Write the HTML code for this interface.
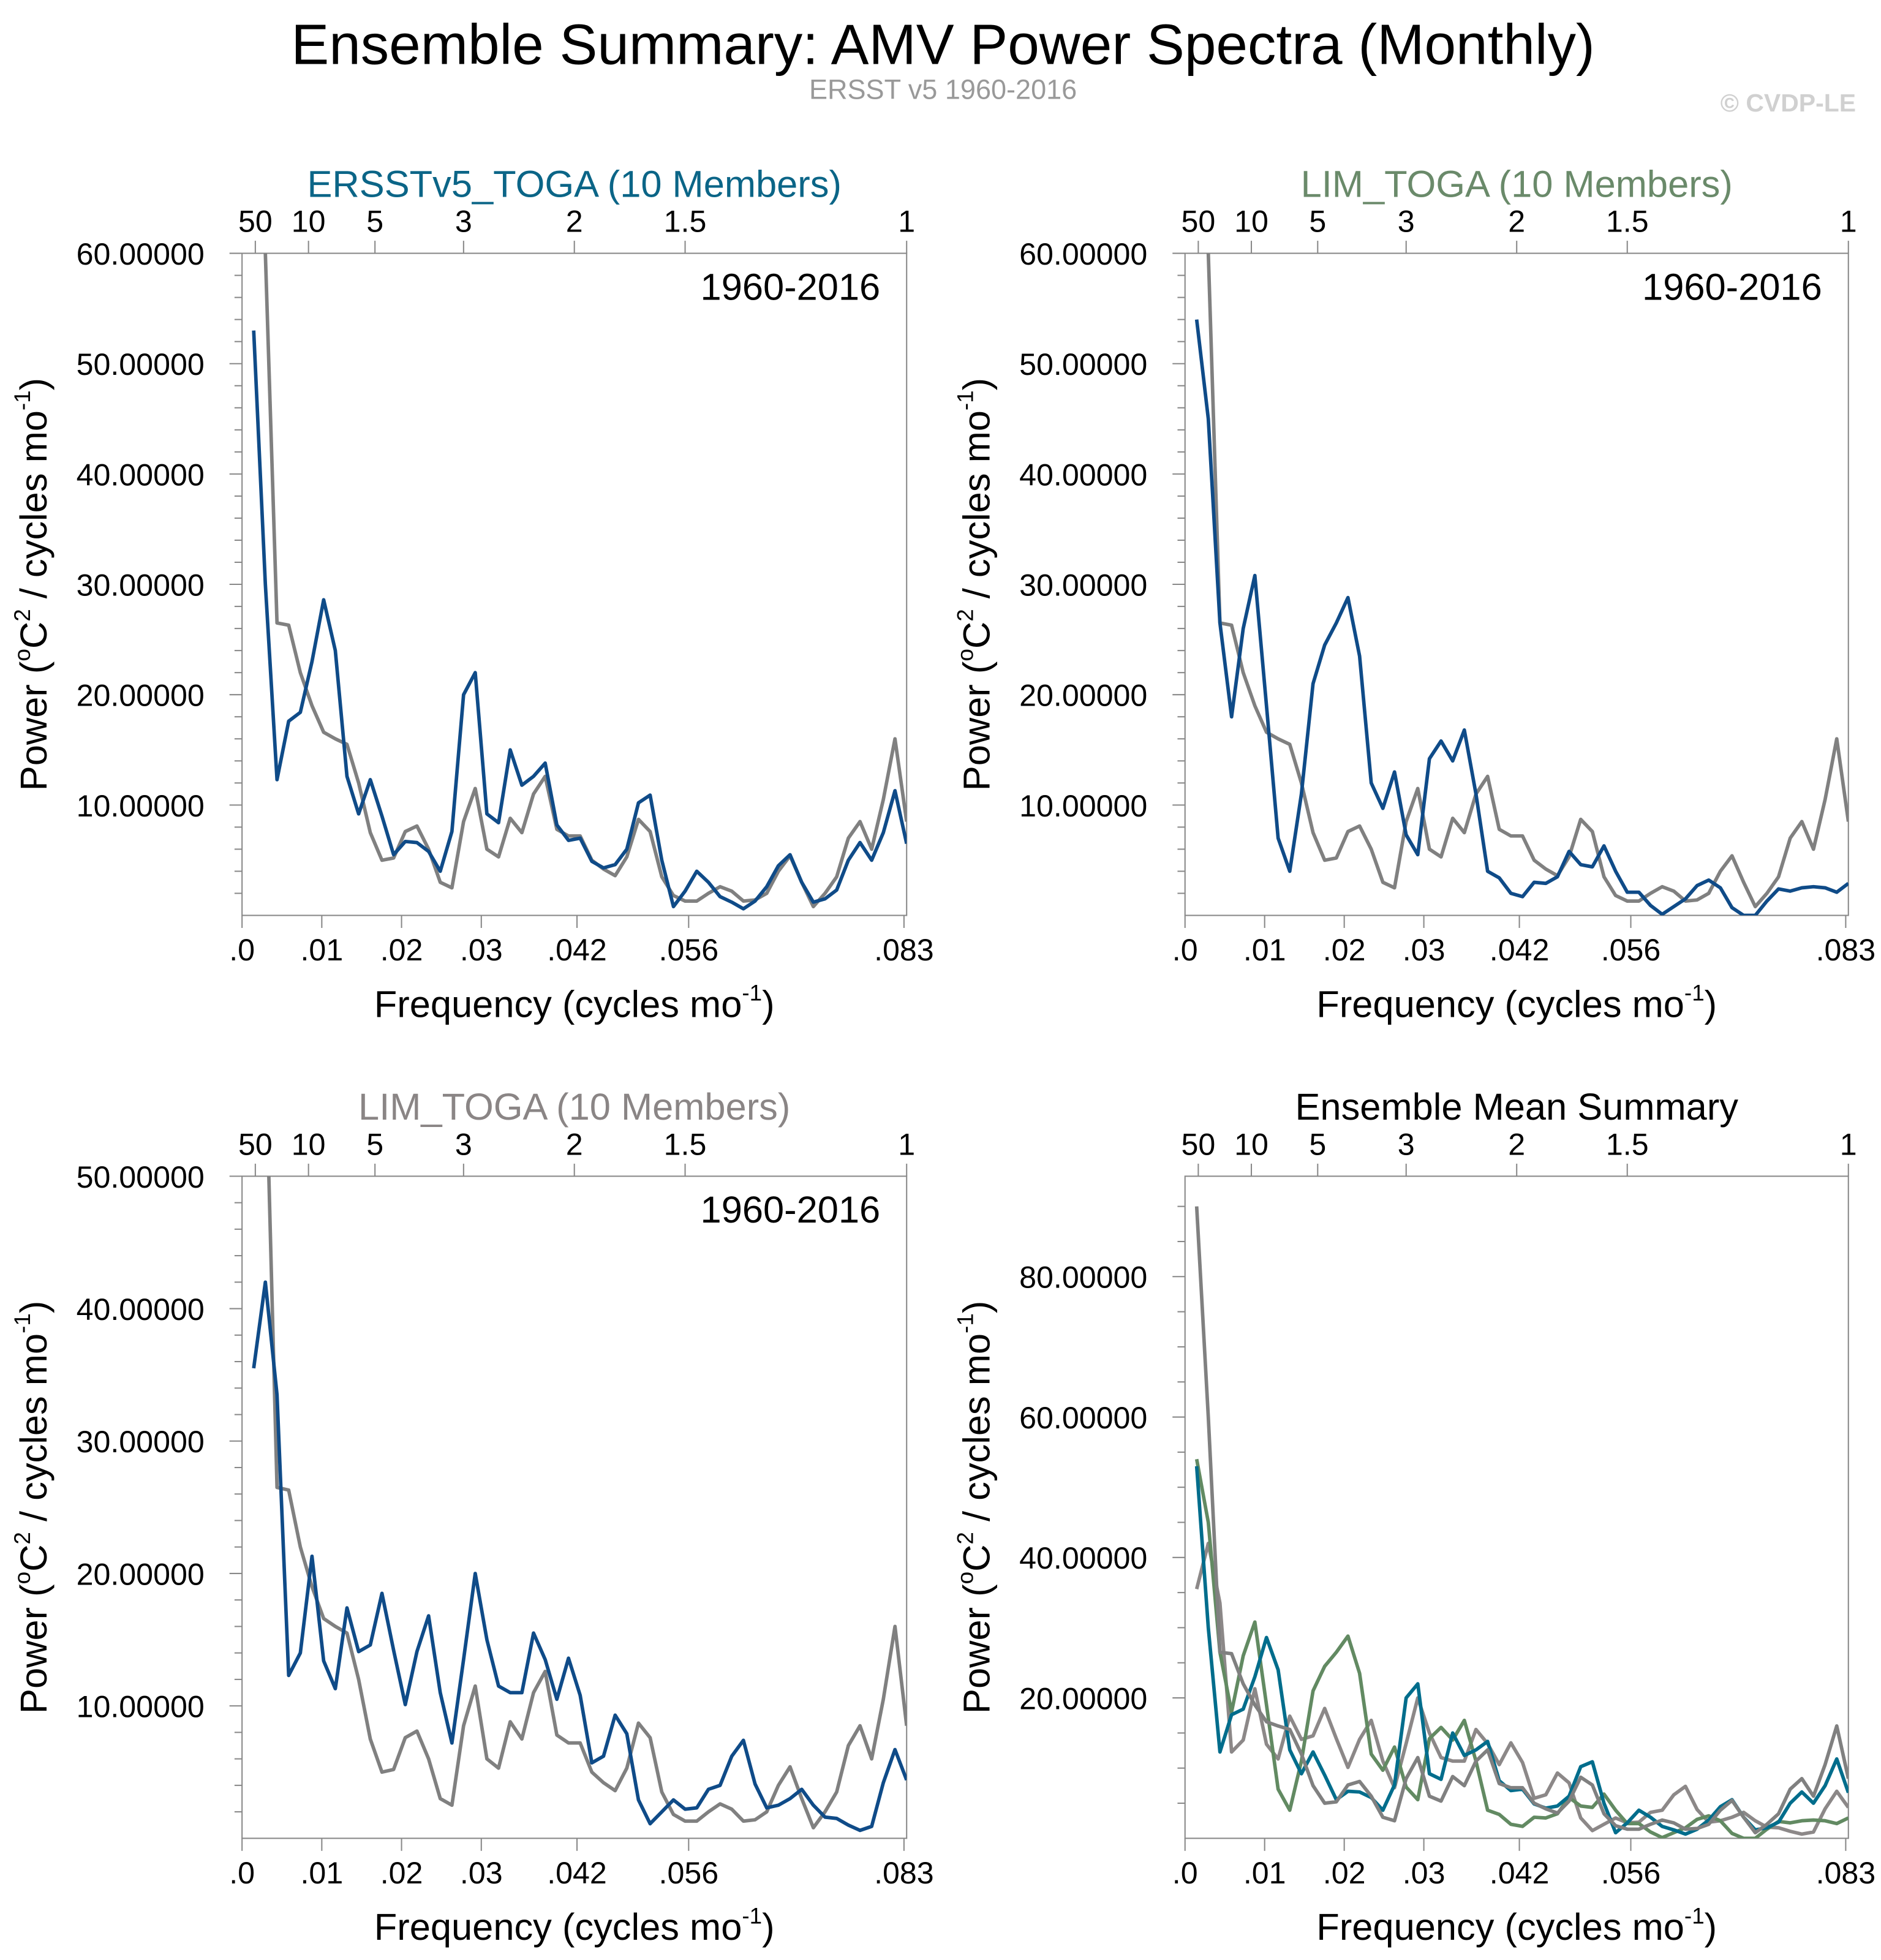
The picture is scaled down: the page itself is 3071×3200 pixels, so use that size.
<!DOCTYPE html>
<html><head><meta charset="utf-8"><style>
html,body{margin:0;padding:0;background:#fff;}
svg{display:block;font-family:"Liberation Sans",Arial,sans-serif;}
</style></head><body>
<svg id="chart" width="3071" height="3200" viewBox="0 0 1500 1563.04" xmlns="http://www.w3.org/2000/svg">
<text x="752" y="51" font-size="45.3" text-anchor="middle" fill="#000">Ensemble Summary: AMV Power Spectra (Monthly)</text>
<text x="752" y="79" font-size="22" text-anchor="middle" fill="#999">ERSST v5 1960-2016</text>
<text x="1480" y="89" font-size="20" font-weight="bold" text-anchor="end" fill="#d0d0d0">© CVDP-LE</text>
</svg>
<script>
const freqCount = 57;
const obsValues = [90,60,26.5,26.3,22,19,16.6,16,15.5,12,7.5,5,5.2,7.6,8.1,6,3,2.5,8.5,11.5,6,5.3,8.8,7.5,11,12.6,7.8,7.2,7.2,5,4.2,3.6,5.3,8.7,7.6,3.5,1.8,1.3,1.3,2,2.6,2.2,1.3,1.4,2,4,5.4,3,0.8,2,3.5,7,8.5,6,10.5,16,8.5];
const ersstValues = [53,30,12.3,17.6,18.4,23,28.6,24,12.6,9.2,12.3,9,5.5,6.7,6.6,5.8,4,7.6,20,22,9.2,8.4,15,11.8,12.6,13.8,8.2,6.8,7,4.9,4.3,4.6,6,10.2,10.9,5,0.8,2.2,4,3,1.7,1.2,0.6,1.3,2.6,4.5,5.5,3,1.2,1.5,2.3,5,6.6,5,7.5,11.3,6.5];
const limValues = [54,45,26.5,18,26,30.8,19,7,4,11,21,24.5,26.5,28.8,23.5,12,9.7,13,7.3,5.5,14.2,15.8,14,16.8,11,4,3.4,2,1.7,3,2.9,3.5,5.8,4.6,4.4,6.3,4,2.1,2.1,0.9,0.1,0.8,1.5,2.7,3.2,2.5,0.7,0,0,1.3,2.4,2.2,2.5,2.6,2.5,2.1,2.9];
const limToga2Values = [35.5,42,33.5,12.3,14,21.3,13.4,11.3,17.4,14.1,14.6,18.5,14.2,10.1,14.1,16.8,11,7.2,13.5,20,15,11.5,11,11,15.5,13.5,10.5,13.6,10.8,5.7,6.2,9.3,7.9,2.9,1.1,2,2.9,2.2,2.3,3.7,4,6.2,7.4,4.1,2.3,2.5,3,3.7,2.5,1.6,1.5,1,0.6,0.9,4.2,6.7,4.4];
const bottomTickValues = [0,0.01,0.02,0.03,0.042,0.056,0.083];
const bottomTickLabels = [".0",".01",".02",".03",".042",".056",".083"];
const topTickPeriods = [50,10,5,3,2,1.5,1];
const topTickLabels = ["50","10","5","3","2","1.5","1"];

const NS="http://www.w3.org/2000/svg";
const svg=document.getElementById('chart');
function mk(tag,attrs,parent){const e=document.createElementNS(NS,tag);for(const k in attrs)e.setAttribute(k,attrs[k]);(parent||svg).appendChild(e);return e;}

const panels=[
 {id:'p1',x0:193,x1:723,y0:202,y1:730,ymax:60,majors:[10,20,30,40,50,60],minorStep:2,title:'ERSSTv5_TOGA (10 Members)',tcol:'#0b6587',period:true,
  series:[{v:obsValues,c:'#808080',n:'obs'},{v:ersstValues,c:'#0f4b88',n:'ersst'}]},
 {id:'p2',x0:945,x1:1474,y0:202,y1:730,ymax:60,majors:[10,20,30,40,50,60],minorStep:2,title:'LIM_TOGA (10 Members)',tcol:'#6a8a6a',period:true,
  series:[{v:obsValues,c:'#808080',n:'obs'},{v:limValues,c:'#0f4b88',n:'lim'}]},
 {id:'p3',x0:193,x1:723,y0:938,y1:1466,ymax:50,majors:[10,20,30,40,50],minorStep:2,title:'LIM_TOGA (10 Members)',tcol:'#8a8585',period:true,
  series:[{v:obsValues,c:'#808080',n:'obs'},{v:limToga2Values,c:'#0f4b88',n:'lim-toga'}]},
 {id:'p4',x0:945,x1:1474,y0:938,y1:1466,ymax:94.3,majors:[20,40,60,80],minorStep:5,title:'Ensemble Mean Summary',tcol:'#000',period:false,
  series:[{v:limToga2Values,c:'#8c8888',n:'lim-toga'},{v:limValues,c:'#628a62',n:'lim'},{v:ersstValues,c:'#006d8c',n:'ersst'},{v:obsValues,c:'#808080',n:'obs'}]}
];
const FMAX=1/12;
panels.forEach(p=>{
 const g=mk('g',{});
 
 
 const xs=f=>p.x0+(p.x1-p.x0)*f/FMAX;
 const ys=v=>p.y1-(p.y1-p.y0)*v/p.ymax;
 const cx=(p.x0+p.x1)/2;
 const t=mk('text',{x:cx,y:p.y0-45,'font-size':30,'text-anchor':'middle',fill:p.tcol},g);t.textContent=p.title;
 
 
 const cp=mk('clipPath',{id:'clip-'+p.id},g);mk('rect',{x:p.x0,y:p.y0,width:p.x1-p.x0,height:p.y1-p.y0},cp);
 const fr=mk('rect',{x:p.x0,y:p.y0,width:p.x1-p.x0,height:p.y1-p.y0,fill:'none',stroke:'#888','stroke-width':1},g);
 
 
 for(let v=p.minorStep;v<=p.ymax+0.001;v+=p.minorStep){
  const major=p.majors.some(m=>Math.abs(m-v)<1e-6);
  mk('line',{x1:p.x0-(major?10:6),x2:p.x0,y1:ys(v),y2:ys(v),stroke:'#888','stroke-width':1},g);
 }
 p.majors.forEach(m=>{const tx=mk('text',{x:p.x0-30,y:ys(m)+9,'font-size':24.5,'text-anchor':'end',fill:'#000'},g);tx.textContent=m.toFixed(5);
  
  });
 bottomTickValues.forEach((f,i)=>{const x=xs(Math.min(f,FMAX));mk('line',{x1:x,x2:x,y1:p.y1,y2:p.y1+10,stroke:'#888','stroke-width':1},g);
  const tx=mk('text',{x:x,y:p.y1+36,'font-size':24.5,'text-anchor':'middle',fill:'#000'},g);tx.textContent=bottomTickLabels[i];
  
  });
 topTickPeriods.forEach((per,i)=>{const x=xs(1/(per*12));mk('line',{x1:x,x2:x,y1:p.y0,y2:p.y0-10,stroke:'#888','stroke-width':1},g);
  const tx=mk('text',{x:x,y:p.y0-17,'font-size':24.5,'text-anchor':'middle',fill:'#000'},g);tx.textContent=topTickLabels[i];
  
  });
 const xt=mk('text',{x:cx,y:p.y1+81,'font-size':30,'text-anchor':'middle',fill:'#000'},g);
 xt.innerHTML='Frequency (cycles mo<tspan dy="-13" font-size="18">-1</tspan><tspan dy="13">)</tspan>';
 
 
 const ymid=(p.y0+p.y1)/2;
 const yt=mk('text',{x:0,y:0,'font-size':30,'text-anchor':'middle',fill:'#000',transform:`translate(${p.x0-156},${ymid}) rotate(-90)`},g);
 yt.innerHTML='Power (<tspan dy="-13" font-size="18">o</tspan><tspan dy="13">C</tspan><tspan dy="-13" font-size="18">2</tspan><tspan dy="13"> / cycles mo</tspan><tspan dy="-13" font-size="18">-1</tspan><tspan dy="13">)</tspan>';
 
 
 if(p.period){const yr=mk('text',{x:p.x1-21,y:p.y0+37,'font-size':30,'text-anchor':'end',fill:'#000'},g);yr.textContent='1960-2016';
  
  }
 p.series.forEach(s=>{
  const pts=s.v.map((v,i)=>xs((i+1)/(freqCount*12))+','+ys(v)).join(' ');
  const pl=mk('polyline',{points:pts,fill:'none',stroke:s.c,'stroke-width':2.8,'stroke-linejoin':'round','clip-path':'url(#clip-'+p.id+')'},g);
  
  
 });
});
</script>
</body></html>
